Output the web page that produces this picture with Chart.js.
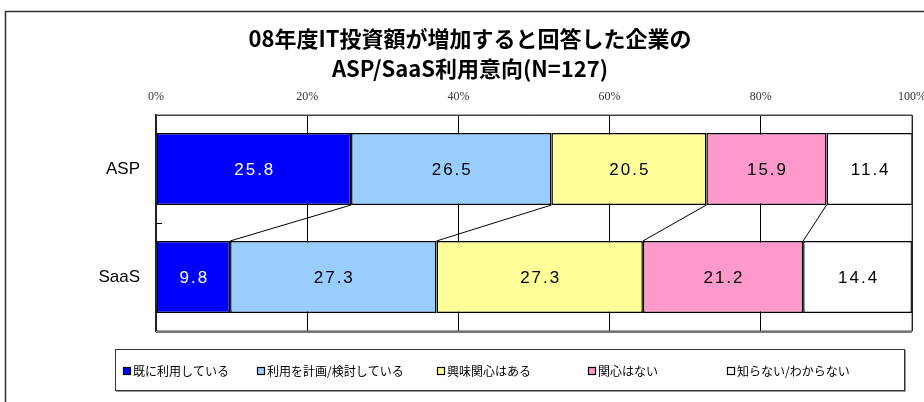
<!DOCTYPE html>
<html>
<head>
<meta charset="utf-8">
<script src="https://cdn.jsdelivr.net/npm/chart.js@4.4.1/dist/chart.umd.min.js"></script>
<style>
html, body { margin: 0; padding: 0; background: #fff; }
</style>
</head>
<body>
<canvas id="usage-chart" width="924" height="402"></canvas>
<script>
// Data
const categories = ['ASP', 'SaaS'];
const seriesNames = ['既に利用している', '利用を計画/検討している', '興味関心はある', '関心はない', '知らない/わからない'];
const aspValues = [25.8, 26.5, 20.5, 15.9, 11.4];
const saasValues = [9.8, 27.3, 27.3, 21.2, 14.4];
const tickLabels = ['0%', '20%', '40%', '60%', '80%', '100%'];
const titleLines = ['08年度IT投資額が増加すると回答した企業の', 'ASP/SaaS利用意向(N=127)'];

const seriesColors = ['#0000FF', '#99CCFF', '#FFFF99', '#FF99CC', '#FFFFFF'];

let datasets = seriesNames.map((name, i) => ({
    label: name,
    data: [aspValues[i], saasValues[i]],
    backgroundColor: seriesColors[i],
    borderColor: '#000',
    borderWidth: 1.5,
    borderSkipped: false,
    barPercentage: 0.667,
    categoryPercentage: 1
}));

// frame round the whole chart
let framePlugin = {
    id: 'frame',
    beforeDraw(chart) {
        let c = chart.ctx;
        c.save();
        c.fillStyle = '#fff';
        c.fillRect(0, 0, chart.width, chart.height);
        c.strokeStyle = '#333';
        c.lineWidth = 1.5;
        c.strokeRect(5.5, 11.5, chart.width + 20, chart.height + 20);
        c.restore();
    }
};

// series lines and value labels
let barExtras = {
    id: 'barExtras',
    afterDatasetsDraw(chart) {
        let c = chart.ctx;
        let xs = chart.scales.x;
        let ds = chart.data.datasets;
        c.save();
        c.strokeStyle = '#000';
        c.lineWidth = 1;
        let cumA = 0, cumS = 0;
        for (let i = 0; i < ds.length - 1; i++) {
            let meta = chart.getDatasetMeta(i);
            cumA += ds[i].data[0];
            cumS += ds[i].data[1];
            let a = meta.data[0], s = meta.data[1];
            c.beginPath();
            c.moveTo(xs.getPixelForValue(cumA), a.y + a.height / 2);
            c.lineTo(xs.getPixelForValue(cumS), s.y - s.height / 2);
            c.stroke();
        }
        c.font = '17px "Liberation Sans", Arial, sans-serif';
        c.letterSpacing = '2px';
        c.textAlign = 'center';
        c.textBaseline = 'middle';
        ds.forEach((d, i) => {
            chart.getDatasetMeta(i).data.forEach((bar, j) => {
                let p = bar.getCenterPoint();
                c.fillStyle = i === 0 ? '#fff' : '#000';
                c.fillText(d.data[j].toFixed(1), p.x + 1, p.y + 1);
            });
        });
        c.restore();
    },
    afterDraw(chart) {
        let c = chart.ctx;
        let a = chart.chartArea;
        c.save();
        // plot border
        c.strokeStyle = '#444';
        c.lineWidth = 1;
        c.strokeRect(a.left, a.top, a.right - a.left, a.bottom - a.top);
        c.strokeStyle = '#777';
        c.lineWidth = 2;
        c.beginPath();
        c.moveTo(a.left, a.bottom + 1);
        c.lineTo(a.right, a.bottom + 1);
        c.stroke();

        // legend box
        c.strokeStyle = '#333';
        c.lineWidth = 1;
        c.strokeRect(115.5, 349.5, 789, 41);
        c.strokeStyle = '#999';
        c.beginPath();
        c.moveTo(116, 391.5);
        c.lineTo(905.5, 391.5);
        c.lineTo(905.5, 350);
        c.stroke();

        let itemX = [123, 257, 437, 588, 727];
        c.font = '12px "Noto Sans CJK JP", sans-serif';
        c.textBaseline = 'middle';
        c.textAlign = 'left';
        chart.data.datasets.forEach((d, i) => {
            c.fillStyle = d.backgroundColor;
            c.fillRect(itemX[i] + 0.5, 367.5, 7, 7);
            c.strokeStyle = '#000';
            c.lineWidth = 1.2;
            c.strokeRect(itemX[i] + 0.5, 367.5, 7, 7);
            c.fillStyle = '#000';
            c.fillText(d.label, itemX[i] + 10, 371);
        });
        c.restore();
    }
};

let ctx = document.getElementById('usage-chart').getContext('2d');

let usageChart = new Chart(ctx, {
    type: 'bar',
    data: {
        labels: categories,
        datasets: datasets
    },
    options: {
        indexAxis: 'y',
        responsive: false,
        animation: false,
        devicePixelRatio: 1,
        layout: {
            padding: { left: 28, right: 12, top: 0, bottom: 71 }
        },
        scales: {
            x: {
                position: 'top',
                stacked: true,
                min: 0,
                max: 100,
                afterFit(scale) {
                    scale.height = 31;
                    scale.paddingLeft = 0;
                    scale.paddingRight = 0;
                },
                afterBuildTicks(scale) {
                    scale.ticks = tickLabels.map((t, i) => ({ value: i * 20 }));
                },
                ticks: {
                    padding: 11,
                    color: '#333',
                    font: { family: '"Liberation Serif", serif', size: 12 },
                    callback: (v, i) => tickLabels[i]
                },
                grid: {
                    color: '#000',
                    lineWidth: 1,
                    drawTicks: false
                },
                border: { color: '#444', width: 1 }
            },
            y: {
                stacked: true,
                afterFit(scale) { scale.width = 128; },
                ticks: {
                    padding: 22,
                    color: '#000',
                    font: { family: '"Liberation Sans", Arial, sans-serif', size: 17 }
                },
                grid: {
                    offset: true,
                    drawOnChartArea: false,
                    tickLength: -6,
                    color: '#000'
                },
                border: { color: '#000', width: 1.5 }
            }
        },
        plugins: {
            legend: { display: false },
            tooltip: { enabled: false },
            title: {
                display: true,
                text: titleLines,
                color: '#000',
                font: { family: '"Noto Sans CJK JP", sans-serif', size: 22, weight: 'bold', lineHeight: '30px' },
                padding: { top: 24, bottom: 0 }
            }
        }
    },
    plugins: [framePlugin, barExtras]
});
</script>
</body>
</html>
